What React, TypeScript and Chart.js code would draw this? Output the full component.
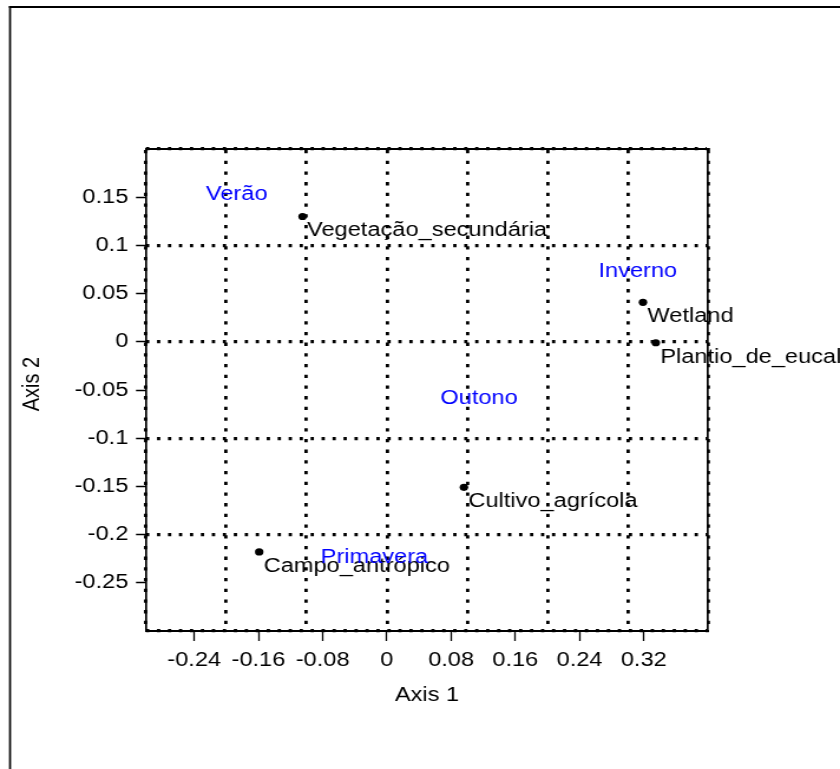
import React, { useEffect, useRef } from "react";
import { Chart, registerables } from "chart.js";

Chart.register(...registerables);

// ---- data ----
const siteNames = ["Vegetação_secundária", "Wetland", "Plantio_de_eucal", "Cultivo_agrícola", "Campo_antrópico"];
const siteX = [-0.105, 0.319, 0.335, 0.096, -0.159];
const siteY = [0.130, 0.041, -0.001, -0.151, -0.218];

const seasonNames = ["Verão", "Inverno", "Outono", "Primavera"];
const seasonX = [-0.231, 0.258, 0.061, -0.088];
const seasonY = [0.168, 0.088, -0.044, -0.209];

const xTickValues = [-0.24, -0.16, -0.08, 0, 0.08, 0.16, 0.24, 0.32];
const xTickLabels = ["-0.24", "-0.16", "-0.08", "0", "0.08", "0.16", "0.24", "0.32"];
const yTickValues = [0.15, 0.1, 0.05, 0, -0.05, -0.1, -0.15, -0.2, -0.25];
const yTickLabels = ["0.15", "0.1", "0.05", "0", "-0.05", "-0.1", "-0.15", "-0.2", "-0.25"];
const xGridValues = [-0.3, -0.2, -0.1, 0, 0.1, 0.2, 0.3, 0.4];
const yGridValues = [0.2, 0.1, 0, -0.1, -0.2, -0.3];

const xTitle = "Axis 1";
const yTitle = "Axis 2";

// ---- rendering constants ----
const CANVAS_W = 712; // internal width, shown stretched to 840px
const CANVAS_H = 769;
const FONT = '"Liberation Sans", Arial, Helvetica, sans-serif';
const FONT_SIZE = 20;

export default function App() {
  const ref = useRef<HTMLCanvasElement>(null);

  useEffect(() => {
    document.body.style.margin = "0";
    document.body.style.overflow = "hidden";
    const canvas = ref.current;
    if (!canvas) return;

    const labelSets: [string[], string][] = [
      [siteNames, "#000000"],
      [seasonNames, "#0000ff"],
    ];

    const pointLabels = {
      id: "pointLabels",
      afterDatasetsDraw(chart: any) {
        const ctx = chart.ctx;
        ctx.save();
        ctx.font = `${FONT_SIZE}px ${FONT}`;
        ctx.textAlign = "left";
        ctx.textBaseline = "alphabetic";
        labelSets.forEach(([names, color], di) => {
          const meta = chart.getDatasetMeta(di);
          meta.data.forEach((el: any, i: number) => {
            ctx.fillStyle = color;
            ctx.fillText(names[i], el.x + 3.8, el.y + 20);
          });
        });
        ctx.restore();
      },
    };

    const frameAndTitles = {
      id: "frameAndTitles",
      beforeDraw(chart: any) {
        const ctx = chart.ctx;
        ctx.save();
        ctx.strokeStyle = "#000";
        ctx.lineWidth = 1.7;
        ctx.beginPath();
        ctx.moveTo(8.5, CANVAS_H + 10);
        ctx.lineTo(8.5, 6);
        ctx.stroke();
        ctx.lineWidth = 2;
        ctx.beginPath();
        ctx.moveTo(7.6, 7);
        ctx.lineTo(CANVAS_W + 10, 7);
        ctx.stroke();
        ctx.restore();
      },
      afterDraw(chart: any) {
        const ctx = chart.ctx;
        const ca = chart.chartArea;
        ctx.save();
        ctx.font = `${FONT_SIZE}px ${FONT}`;
        ctx.fillStyle = "#000";
        ctx.textAlign = "center";
        ctx.textBaseline = "alphabetic";
        ctx.fillText(xTitle, (ca.left + ca.right) / 2, 701);
        ctx.translate(32.5, 384);
        ctx.rotate(-Math.PI / 2);
        ctx.fillText(yTitle, 0, 0);
        ctx.restore();
      },
    };

    const tickFont = { family: FONT, size: FONT_SIZE };

    const chart = new Chart(canvas, {
      type: "scatter",
      data: {
        datasets: [
          {
            label: "sites",
            data: siteX.map((x, i) => ({ x, y: siteY[i] })),
            pointRadius: 3.6,
            pointBackgroundColor: "#000",
            pointBorderColor: "#000",
            pointBorderWidth: 0,
          },
          {
            label: "seasons",
            data: seasonX.map((x, i) => ({ x, y: seasonY[i] })),
            pointRadius: 0,
            pointBorderWidth: 0,
          },
        ],
      },
      options: {
        responsive: false,
        animation: false,
        events: [],
        layout: { padding: { left: 63.75, right: 111.9, top: 149, bottom: 98 } },
        plugins: { legend: { display: false }, tooltip: { enabled: false } },
        scales: {
          x: {
            type: "linear",
            position: "bottom",
            min: -0.3,
            max: 0.4,
            afterBuildTicks: (s: any) => {
              s.ticks = xTickValues.map((value) => ({ value }));
            },
            afterFit: (s: any) => {
              s.height = 40;
            },
            ticks: {
              callback: (_v: any, i: number) => xTickLabels[i],
              padding: 7,
              color: "#000",
              font: tickFont,
              autoSkip: false,
              maxRotation: 0,
            },
            grid: {
              drawOnChartArea: false,
              drawTicks: true,
              tickLength: 10,
              tickWidth: 1.3,
              tickColor: "#000",
              color: "#000",
            },
            border: { display: true, color: "#000", width: 2 },
          },
          x2: {
            type: "linear",
            position: "top",
            min: -0.3,
            max: 0.4,
            afterBuildTicks: (s: any) => {
              s.ticks = xGridValues.map((value) => ({ value }));
            },
            afterFit: (s: any) => {
              s.height = 0;
            },
            ticks: { display: false },
            grid: {
              drawOnChartArea: true,
              drawTicks: false,
              color: "#000",
              lineWidth: 2.8,
            },
            border: { display: true, color: "#000", width: 2, dash: [3.3, 7.4] },
          },
          y: {
            type: "linear",
            position: "left",
            min: -0.3,
            max: 0.2,
            afterBuildTicks: (s: any) => {
              s.ticks = yTickValues.map((value) => ({ value }));
            },
            afterFit: (s: any) => {
              s.width = 60;
            },
            ticks: {
              callback: (_v: any, i: number) => yTickLabels[i],
              padding: 6.5,
              color: "#000",
              font: tickFont,
              autoSkip: false,
            },
            grid: {
              drawOnChartArea: false,
              drawTicks: true,
              tickLength: 8.5,
              tickWidth: 1.5,
              tickColor: "#000",
              color: "#000",
            },
            border: { display: true, color: "#000", width: 1.7 },
          },
          y2: {
            type: "linear",
            position: "right",
            min: -0.3,
            max: 0.2,
            afterBuildTicks: (s: any) => {
              s.ticks = yGridValues.map((value) => ({ value }));
            },
            afterFit: (s: any) => {
              s.width = 0;
            },
            ticks: { display: false },
            grid: {
              drawOnChartArea: true,
              drawTicks: false,
              color: "#000",
              lineWidth: 3.3,
            },
            border: { display: true, color: "#000", width: 1.7, dash: [2.8, 6.5] },
          },
        },
      } as any,
      plugins: [pointLabels, frameAndTitles],
    });

    return () => chart.destroy();
  }, []);

  return (
    <canvas
      ref={ref}
      width={CANVAS_W}
      height={CANVAS_H}
      style={{ display: "block", width: "840px", height: "769px" }}
    />
  );
}
